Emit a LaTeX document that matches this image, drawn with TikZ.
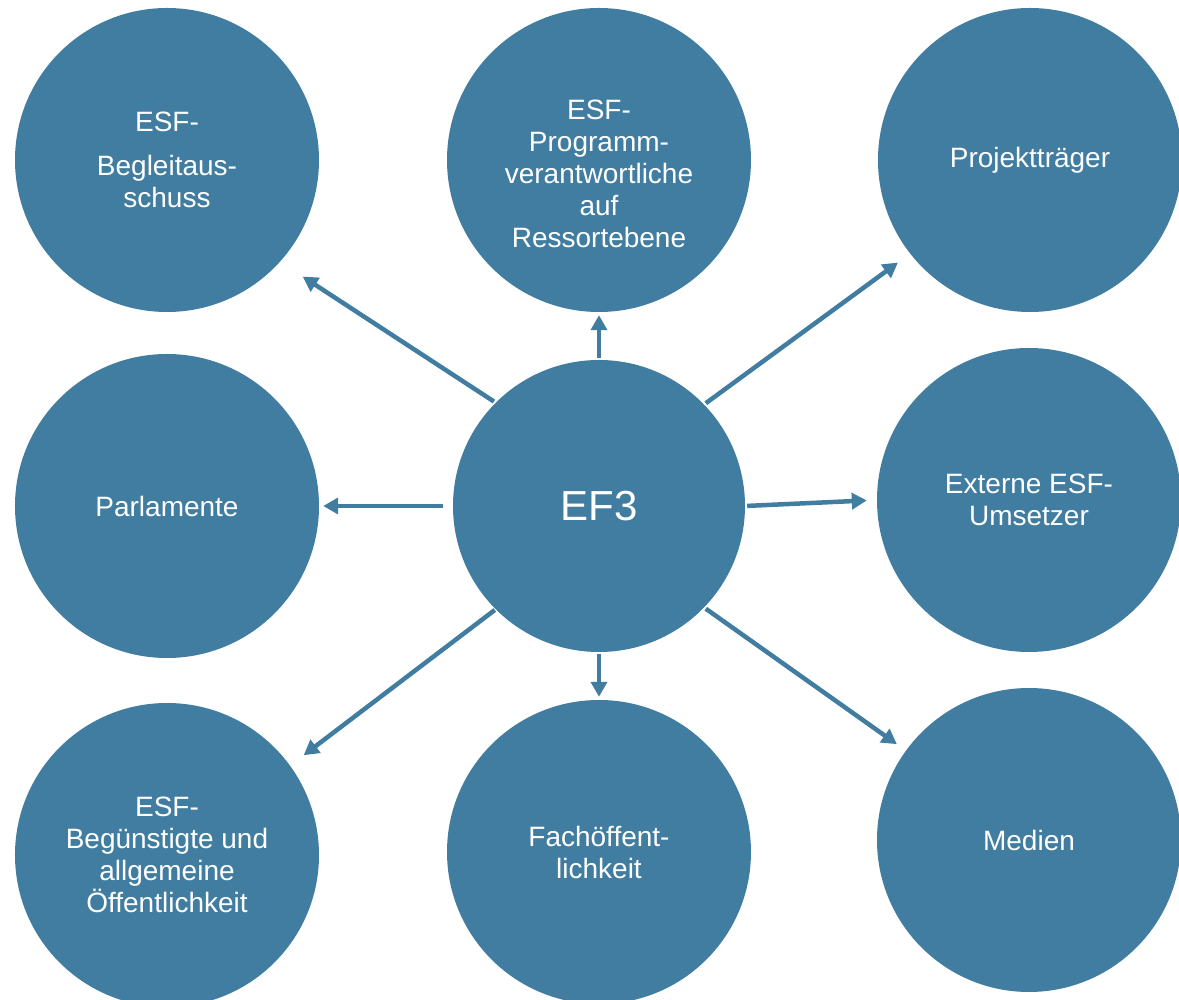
\documentclass[tikz,border=0pt]{standalone}
\usepackage{fontspec}
\setmainfont{Liberation Sans}
\usetikzlibrary{positioning, arrows.meta}
\definecolor{efblue}{RGB}{65,125,160}

\tikzset{
  ring/.style={circle, fill=efblue, minimum size=304pt, inner sep=0pt,
    text=white, align=center, font=\fontsize{28}{32}\selectfont},
  ringtext/.style={text=white, align=center, font=\fontsize{28}{32}\selectfont},
  link/.style={-{Triangle[length=15pt,width=16pt]}, draw=efblue, line width=4.5pt}
}

\begin{document}
\begin{tikzpicture}[on grid]
    \useasboundingbox (-599pt,-494pt) rectangle (580pt,506pt);
    \node[ring, minimum size=292pt, font=\fontsize{42}{48}\selectfont] (ef) {EF3};
    \node[ring, above left=346pt and 432pt of ef] (tl) {ESF-\\[12pt]Begleitaus-\\schuss};
    \node[ring, above=346pt of ef,
      label={[ringtext, yshift=-14pt]center:{ESF-\\Programm-\\verantwortliche\\auf\\Ressortebene}}] (tm) {};
    \node[ring, above right=346pt and 431pt of ef] (tr) {Projektträger};
    \node[ring, left=432pt of ef] (ml) {Parlamente};
    \node[ring, above right=6pt and 430pt of ef] (mr) {Externe ESF-\\Umsetzer};
    \node[ring, below left=349pt and 432pt of ef] (bl) {ESF-\\Begünstigte und\\allgemeine\\Öffentlichkeit};
    \node[ring, below=346pt of ef] (bm) {Fachöffent-\\lichkeit};
    \node[ring, below right=334pt and 430pt of ef] (br) {Medien};
    % arrows from the centre
    \draw[link, shorten <=2pt, shorten >=27pt] (ef.135.5) -- (tl.-42.6);
    \draw[link, shorten <=2pt, shorten >=3pt] (ef.90) -- (tm.-90);
    \draw[link, shorten <=2pt, shorten >=15pt] (ef.44.7) -- (tr.218.4);
    \draw[link, shorten <=10pt, shorten >=4pt] (ef.180) -- (ml.0);
    \draw[link, shorten <=2pt, shorten >=10pt] (ef.0) -- (mr.180);
    \draw[link, shorten <=1pt, shorten >=17pt] (ef.225.6) -- (bl.36.3);
    \draw[link, shorten <=2pt, shorten >=3pt] (ef.-90) -- (bm.90);
    \draw[link, shorten <=2pt, shorten >=11pt] (ef.-44.7) -- (br.144.2);
\end{tikzpicture}
\end{document}
